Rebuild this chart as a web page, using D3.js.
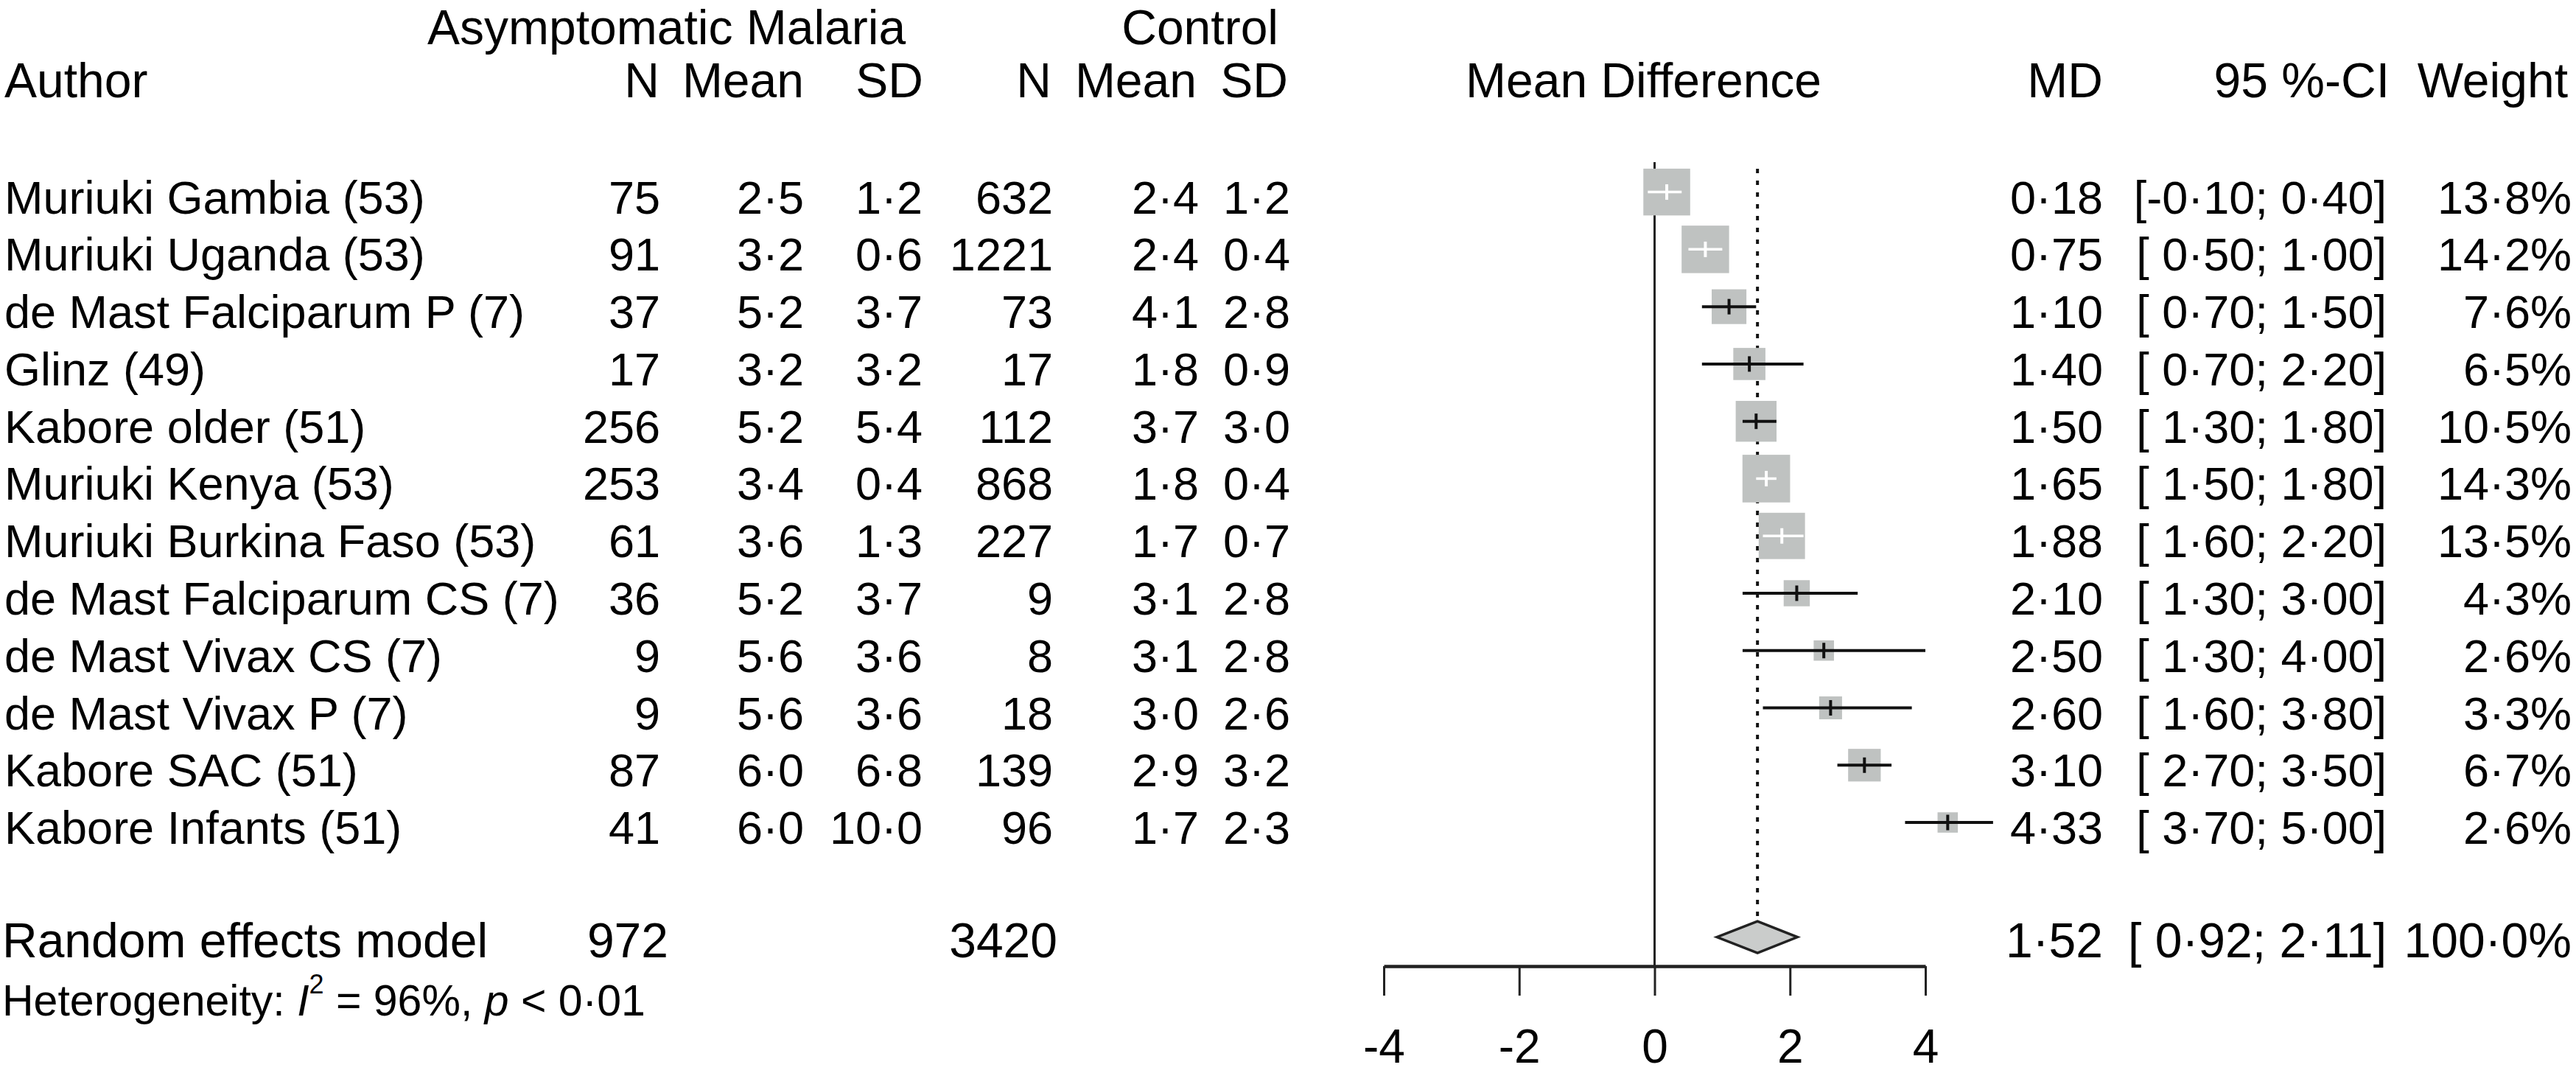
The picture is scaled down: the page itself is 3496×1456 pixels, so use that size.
<!DOCTYPE html>
<html>
<head>
<meta charset="utf-8">
<script src="https://cdn.jsdelivr.net/npm/d3@7"></script>
<style>
  html, body { margin: 0; padding: 0; background: #ffffff; }
  svg { display: block; }
  text { font-family: "Liberation Sans", Arial, Helvetica, sans-serif; fill: #000; white-space: pre; }
</style>
</head>
<body>
<svg id="chart" width="3496" height="1456"></svg>
<script>
// ---------------- data ----------------
const studies = [
  "Muriuki Gambia (53)", "Muriuki Uganda (53)", "de Mast Falciparum P (7)", "Glinz (49)",
  "Kabore older (51)", "Muriuki Kenya (53)", "Muriuki Burkina Faso (53)", "de Mast Falciparum CS (7)",
  "de Mast Vivax CS (7)", "de Mast Vivax P (7)", "Kabore SAC (51)", "Kabore Infants (51)"
];
const nExp   = [75, 91, 37, 17, 256, 253, 61, 36, 9, 9, 87, 41];
const meanExp = [2.5, 3.2, 5.2, 3.2, 5.2, 3.4, 3.6, 5.2, 5.6, 5.6, 6.0, 6.0];
const sdExp   = [1.2, 0.6, 3.7, 3.2, 5.4, 0.4, 1.3, 3.7, 3.6, 3.6, 6.8, 10.0];
const nCtl   = [632, 1221, 73, 17, 112, 868, 227, 9, 8, 18, 139, 96];
const meanCtl = [2.4, 2.4, 4.1, 1.8, 3.7, 1.8, 1.7, 3.1, 3.1, 3.0, 2.9, 1.7];
const sdCtl   = [1.2, 0.4, 2.8, 0.9, 3.0, 0.4, 0.7, 2.8, 2.8, 2.6, 3.2, 2.3];
const md     = [0.18, 0.75, 1.10, 1.40, 1.50, 1.65, 1.88, 2.10, 2.50, 2.60, 3.10, 4.33];
const ciLow  = [-0.10, 0.50, 0.70, 0.70, 1.30, 1.50, 1.60, 1.30, 1.30, 1.60, 2.70, 3.70];
const ciHigh = [0.40, 1.00, 1.50, 2.20, 1.80, 1.80, 2.20, 3.00, 4.00, 3.80, 3.50, 5.00];
const weight = [13.8, 14.2, 7.6, 6.5, 10.5, 14.3, 13.5, 4.3, 2.6, 3.3, 6.7, 2.6];

const summaryLabel = "Random effects model";
const summaryNExp = 972;
const summaryNCtl = 3420;
const summaryMD = 1.52;
const summaryLow = 0.92;
const summaryHigh = 2.11;
const summaryWeight = 100.0;
const hetI2 = 96;
const hetP = "< 0·01";

const tickValues = [-4, -2, 0, 2, 4];
const tickLabels = ["-4", "-2", "0", "2", "4"];

const groupHeaders = ["Asymptomatic Malaria", "Control"];
const colHeaders = ["Author", "N", "Mean", "SD", "N", "Mean", "SD", "Mean Difference", "MD", "95 %-CI", "Weight"];

// ---------------- helpers ----------------
const dot = s => s.replace(/\u2212/g, "-").replace(/\./g, "·");
const f1 = v => dot(d3.format(".1f")(v));
const f2 = v => dot(d3.format(".2f")(v));
const fCI = (lo, hi) => "[" + (lo < 0 ? "" : " ") + f2(lo) + "; " + f2(hi) + "]";
const fW = v => f1(v) + "%";

// ---------------- layout ----------------
const svg = d3.select("#chart");
const FS = 63;     // study rows
const FH = 66;     // headings and summary
const x = d3.scaleLinear().domain([-4, 4]).range([1878, 2613]);
const y = d3.scaleLinear().domain([0, 13]).range([260.6, 1271.6]);
const boxSide = d3.scaleSqrt().domain([0, 100]).range([0, 171]);
const base = 29;         // text baseline offset from row centre
const axisY = 1311;

const col = { nE: 896, mE: 1091, sE: 1252, nC: 1429, mC: 1627, sC: 1751, md: 2854, ci: 3239, w: 3490 };

function txt(xp, yp, s, anchor, size) {
  return svg.append("text")
    .attr("x", xp).attr("y", yp)
    .attr("text-anchor", anchor || "start")
    .attr("font-size", size || FS)
    .text(s);
}

// group headers
txt(580, 60, groupHeaders[0], "start", FH);
txt(1735, 60, groupHeaders[1], "end", FH);

// column headers
const hy = 132;
txt(6, hy, colHeaders[0], "start", FH);
txt(895, hy, colHeaders[1], "end", FH);
txt(1091, hy, colHeaders[2], "end", FH);
txt(1253, hy, colHeaders[3], "end", FH);
txt(1427, hy, colHeaders[4], "end", FH);
txt(1624, hy, colHeaders[5], "end", FH);
txt(1748, hy, colHeaders[6], "end", FH);
txt(1989, hy, colHeaders[7], "start", FH);
txt(col.md, hy, colHeaders[8], "end", FH);
txt(3243, hy, colHeaders[9], "end", FH);
txt(3485, hy, colHeaders[10], "end", FH);

// study rows text
studies.forEach((name, i) => {
  const yy = y(i) + base;
  txt(6, yy, name, "start");
  txt(col.nE, yy, String(nExp[i]), "end");
  txt(col.mE, yy, f1(meanExp[i]), "end");
  txt(col.sE, yy, f1(sdExp[i]), "end");
  txt(col.nC, yy, String(nCtl[i]), "end");
  txt(col.mC, yy, f1(meanCtl[i]), "end");
  txt(col.sC, yy, f1(sdCtl[i]), "end");
  txt(col.md, yy, f2(md[i]), "end");
  txt(col.ci, yy, fCI(ciLow[i], ciHigh[i]), "end");
  txt(col.w, yy, fW(weight[i]), "end");
});

// summary row
const sy = y(13) + 27;
txt(3, sy, summaryLabel, "start", FH);
txt(907, sy, String(summaryNExp), "end", FH);
txt(1435, sy, String(summaryNCtl), "end", FH);
txt(col.md, sy, f2(summaryMD), "end", FH);
txt(col.ci, sy, fCI(summaryLow, summaryHigh), "end", FH);
txt(col.w, sy, f1(summaryWeight) + "%", "end", FH);

// heterogeneity
const het = svg.append("text").attr("x", 3).attr("y", 1378).attr("font-size", 59);
het.append("tspan").text("Heterogeneity: ");
het.append("tspan").attr("font-style", "italic").text("I");
het.append("tspan").attr("font-size", 36).attr("dy", -30).text("2");
het.append("tspan").attr("dy", 30).text(" = " + hetI2 + "%, ");
het.append("tspan").attr("font-style", "italic").text("p");
het.append("tspan").text(" " + hetP);

// ---------------- forest ----------------
const g = svg.append("g");

// zero line
g.append("line")
  .attr("x1", x(0)).attr("x2", x(0))
  .attr("y1", 220).attr("y2", axisY)
  .attr("stroke", "#222").attr("stroke-width", 3);

// summary dashed line
g.append("line")
  .attr("x1", x(summaryMD)).attr("x2", x(summaryMD))
  .attr("y1", 229).attr("y2", y(13) - 21.5)
  .attr("stroke", "#111").attr("stroke-width", 4)
  .attr("stroke-dasharray", "6,10");

// studies: boxes and CIs
studies.forEach((name, i) => {
  const cx = x(md[i]);
  const cy = y(i);
  const s = boxSide(weight[i]);
  const half = s / 2;
  const inside = (x(ciHigh[i]) - cx) < half - 1 && (cx - x(ciLow[i])) < half - 1;
  const color = inside ? "#ffffff" : "#111111";
  g.append("rect")
    .attr("x", cx - half).attr("y", cy - half)
    .attr("width", s).attr("height", s)
    .attr("fill", "#bfc2c1");
  g.append("line")
    .attr("x1", x(ciLow[i])).attr("x2", x(ciHigh[i]))
    .attr("y1", cy).attr("y2", cy)
    .attr("stroke", color).attr("stroke-width", inside ? 3.5 : 4);
  g.append("line")
    .attr("x1", cx).attr("x2", cx)
    .attr("y1", cy - 10.5).attr("y2", cy + 10.5)
    .attr("stroke", color).attr("stroke-width", 4);
});

// diamond
const dy = y(13);
g.append("path")
  .attr("d", [
    [x(summaryLow), dy], [x(summaryMD), dy - 21.5], [x(summaryHigh), dy], [x(summaryMD), dy + 21.5]
  ].map((p, k) => (k ? "L" : "M") + p[0] + "," + p[1]).join("") + "Z")
  .attr("fill", "#cacccb")
  .attr("stroke", "#222").attr("stroke-width", 3.5);

// axis
const axis = d3.axisBottom(x)
  .tickValues(tickValues)
  .tickFormat((d, k) => tickLabels[k])
  .tickSize(40)
  .tickSizeOuter(0)
  .tickPadding(58);
const ag = svg.append("g").attr("transform", `translate(0,${axisY})`).call(axis);
ag.select(".domain").attr("stroke", "#222").attr("stroke-width", 4.5);
ag.selectAll(".tick line").attr("stroke", "#222").attr("stroke-width", 3);
ag.selectAll(".tick text")
  .attr("font-size", 64)
  .attr("font-family", "'Liberation Sans', Arial, sans-serif")
  .attr("fill", "#000")
  .attr("dy", null)
  .attr("y", 131);
</script>
</body>
</html>
